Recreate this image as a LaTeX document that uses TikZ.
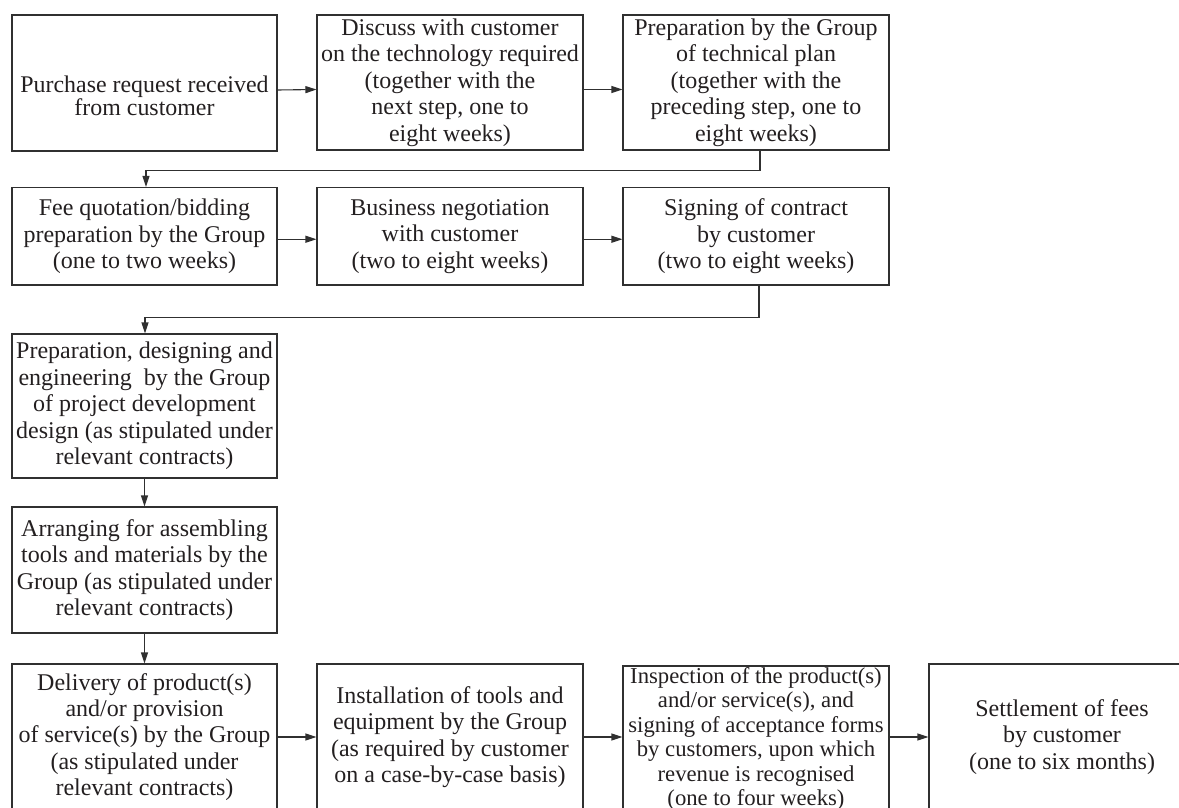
\documentclass[tikz,border=0pt]{standalone}
\usepackage{fontspec}
\setmainfont{Liberation Serif}
\usetikzlibrary{arrows.meta}
\definecolor{ink}{HTML}{231F20}
\definecolor{edge}{HTML}{303030}

\begin{document}
\begin{tikzpicture}[x=1pt,y=-1pt,
  stepbox/.style={draw=edge, line width=1.1pt, text=ink, align=center,
    inner sep=0pt, minimum width=266pt,
    font=\fontsize{24}{26.4}\selectfont},
  link/.style={draw=edge, line width=1.1pt,
    -{Triangle[length=11pt,width=7pt]}}]

\useasboundingbox (0,0) rectangle (1179,808);
\clip (0,0) rectangle (1179,808);

% first row
\node[stepbox, minimum width=265pt, minimum height=136pt,
      font=\fontsize{23.9}{20}\selectfont] (b1) at (144.5,83)
  {\rule{0pt}{43pt}Purchase request received\\from customer};
\node[stepbox, minimum height=135pt] (b2) at (450,82.5)
  {Discuss with customer\\on the technology required\\(together with the\\next step, one to\\eight weeks)};
\node[stepbox, minimum height=135pt] (b3) at (756,82.5)
  {Preparation by the Group\\of technical plan\\(together with the\\preceding step, one to\\eight weeks)};

% second row
\node[stepbox, minimum width=265pt, minimum height=97.5pt] (b4) at (144.5,236.25)
  {Fee quotation/bidding\\preparation by the Group\\(one to two weeks)};
\node[stepbox, minimum height=97.5pt] (b5) at (450,236.25)
  {Business negotiation\\with customer\\(two to eight weeks)};
\node[stepbox, minimum height=97.5pt] (b6) at (756,236.25)
  {Signing of contract\\by customer\\(two to eight weeks)};

% left column
\node[stepbox, minimum width=265pt, minimum height=144pt] (b7) at (144.5,406)
  {Preparation, designing and\\engineering\ \ by the Group\\of project development\\design (as stipulated under\\relevant contracts)};
\node[stepbox, minimum width=265pt, minimum height=126pt] (b8) at (144.5,570)
  {Arranging for assembling\\tools and materials by the\\Group (as stipulated under\\relevant contracts)};

% last row
\node[stepbox, minimum width=265pt, minimum height=146pt] (b9) at (144.5,737)
  {Delivery of product(s)\\and/or provision\\of service(s) by the Group\\(as stipulated under\\relevant contracts)};
\node[stepbox, minimum height=146pt] (b10) at (450,737)
  {Installation of tools and\\equipment by the Group\\(as required by customer\\on a case-by-case basis)};
\node[stepbox, minimum height=146pt, font=\fontsize{22.7}{24.4}\selectfont] (b11) at (756,739)
  {Inspection of the product(s)\\and/or service(s), and\\signing of acceptance forms\\by customers, upon which\\revenue is recognised\\(one to four weeks)};
\node[stepbox, minimum height=146pt] (b12) at (1062,737)
  {Settlement of fees\\by customer\\(one to six months)};

% connectors
\draw[link] ([yshift=-7pt]b1.east) -- ([yshift=-7pt]b2.west);
\draw[link] ([yshift=-7pt]b2.east) -- ([yshift=-7pt]b3.west);
\draw[link] ([xshift=4pt]b3.south) -- ++(0,19.5) -| ([xshift=1.5pt]b4.north);
\draw[link] ([yshift=-3pt]b4.east) -- ([yshift=-3pt]b5.west);
\draw[link] ([yshift=-3pt]b5.east) -- ([yshift=-3pt]b6.west);
\draw[link] ([xshift=3pt]b6.south) -- ++(0,32) -| ([xshift=0.5pt]b7.north);
\draw[link] (b7.south) -- (b8.north);
\draw[link] (b8.south) -- (b9.north);
\draw[link] (b9.east) -- (b10.west);
\draw[link] (b10.east) -- ([yshift=2pt]b11.west);
\draw[link] ([yshift=2pt]b11.east) -- (b12.west);

\end{tikzpicture}
\end{document}
